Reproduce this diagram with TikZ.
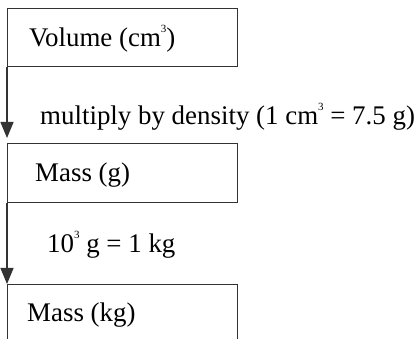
\documentclass[tikz,border=0pt]{standalone}
\usepackage{fontspec}
\setmainfont{Liberation Serif}
\usetikzlibrary{arrows.meta}
\newcommand{\smallsup}[1]{\raisebox{0.55em}{\fontsize{11}{11}\selectfont #1}}
\begin{document}
\begin{tikzpicture}[x=1pt,y=1pt,
  boxstyle/.style={draw=black!80,line width=1.3pt,rectangle,inner sep=0pt,minimum width=230pt,anchor=north west},
  lbl/.style={anchor=base west,inner sep=0pt,font=\fontsize{26.9}{28}\selectfont},
  conn/.style={draw=black!80,line width=1.3pt,-{Triangle[length=16pt,width=13pt]}}]
\useasboundingbox (0,0) rectangle (417,339);
\node[boxstyle,minimum height=58pt] (b1) at (7,331) {};
\node[boxstyle,minimum height=59pt] (b2) at (7,196) {};
\node[boxstyle,minimum height=80pt] (b3) at (7,55) {};
\node[lbl] (t1) at (29,292) {Volume (cm\smallsup{3})};
\node[lbl] (t2) at (40,214) {multiply by density (1 cm\smallsup{3} = 7.5 g)};
\node[lbl] (t3) at (35,157) {Mass (g)};
\node[lbl] (t4) at (47,86) {10\smallsup{3} g = 1 kg};
\node[lbl] (t5) at (27,17) {Mass (kg)};
\draw[conn,shorten >=5pt] (b1.south west) -- (b2.north west);
\draw[conn] (b2.south west) -- (b3.north west);
\end{tikzpicture}
\end{document}
